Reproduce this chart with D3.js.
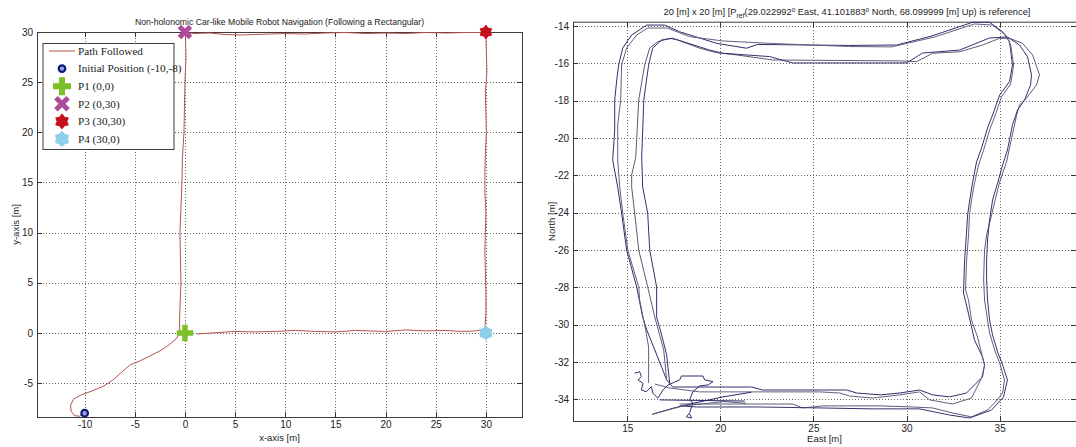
<!DOCTYPE html>
<html>
<head>
<meta charset="utf-8">
<script src="https://cdn.jsdelivr.net/npm/d3@7"></script>
<style>
body { margin: 0; background: #fff; }
svg { display: block; font-family: "Liberation Sans", Arial, sans-serif; }
.grid line { stroke: #666; stroke-dasharray: 1,2; shape-rendering: crispEdges; }
.axis line { stroke: #333; shape-rendering: crispEdges; }
.axis text { fill: #222; }
</style>
</head>
<body>
<script>
// ---------- left chart: robot path (x, y in m) ----------
var robotPath = [
	[-10,-8],[-10.5,-8.3],[-11.0,-8.25],[-11.35,-7.8],[-11.4,-7.2],[-11.1,-6.6],[-10.4,-6.2],[-9.3,-5.8],
	[-8.1,-5.3],[-7.2,-4.7],[-6.4,-4.0],[-5.5,-3.2],[-4.5,-2.8],[-3.5,-2.3],[-2.5,-1.8],[-1.6,-1.2],
	[-0.9,-0.6],[-0.5,0.0],
	[-0.55,1],[-0.5,2.5],[-0.4,5],[-0.45,7.5],[-0.5,10],[-0.4,12.5],[-0.3,15],[-0.25,17.5],[-0.1,20],
	[-0.05,22.5],[0.0,25],[0.1,27.5],[0.05,29.5],[0.2,29.9],
	[1,29.85],[2.5,29.9],[4,29.75],[5.5,29.7],[7,29.75],[8.5,29.8],[10,29.85],[12,29.8],[14,29.9],
	[16,29.95],[18,29.85],[20,29.9],[22,29.85],[24,29.95],[26,29.9],[28,29.95],[29.6,29.95],[30,29.7],
	[30.05,28],[30.1,26],[29.95,24],[30.0,22],[30.05,20],[29.95,18],[29.9,16],[29.9,14],[30.0,12],
	[29.95,10],[29.9,8],[29.95,6],[30.0,4],[30.0,2],[29.9,0.4],
	[29,0.2],[27.5,0.15],[26,0.25],[24,0.2],[22,0.3],[20,0.15],[18.5,0.2],[17,0.25],[15,0.1],[13,0.15],
	[11,0.25],[9,0.15],[7,0.1],[5,0.15],[3.5,0.05],[2,-0.05],[1.2,-0.1]
];
var initialPos = [-10, -8];
var waypointX = [0, 0, 30, 30];
var waypointY = [0, 30, 30, 0];
var legendLabels = ["Path Followed", "Initial Position (-10,-8)", "P1 (0,0)", "P2 (0,30)", "P3 (30,30)", "P4 (30,0)"];
var leftXTicks = [-10, -5, 0, 5, 10, 15, 20, 25, 30];
var leftYTicks = [-5, 0, 5, 10, 15, 20, 25, 30];

// ---------- right chart: recorded tracks (East, North in m) ----------
var trackA1 = [
	[17.12,-32.96],[16.48,-31.35],[16.05,-30.28],[15.83,-29.59],[15.51,-27.98],[14.97,-26.00],[14.70,-24.02],
	[14.49,-22.62],[14.22,-21.18],[14.33,-19.57],[14.33,-17.96],[14.44,-16.89],[14.54,-16.09],[14.76,-15.18],
	[15.24,-14.48],[16.05,-13.95],[17.01,-13.95],[17.82,-14.31],[19.80,-14.93],[21.41,-15.19],[22.00,-14.99],
	[26.94,-15.04],[29.47,-15.02],[31.34,-14.54],[33.55,-13.80],[34.46,-13.80],[35.16,-14.31],[35.53,-14.84],
	[35.69,-16.09],[35.53,-16.98],[35.00,-17.70],[34.62,-18.77],[34.35,-19.46],[34.03,-20.53],[33.76,-21.28],
	[33.55,-22.36],[33.38,-23.43],[33.28,-24.12],[33.22,-25.09],[33.12,-26.53],[33.06,-28.30],[33.28,-29.21],
	[33.65,-30.82],[34.08,-31.73],[34.19,-32.16],[34.08,-32.80],[33.22,-33.66],[32.31,-33.87],[31.40,-33.76],
	[30.70,-33.50],[29.63,-33.66],[28.61,-33.76],[27.32,-33.66],[26.78,-33.50],[25.49,-33.50],[22.27,-33.50],
	[21.68,-33.34],[17.44,-33.34],[17.12,-32.96]
];
var trackA2 = [
	[16.15,-33.12],[16.15,-31.19],[15.99,-30.28],[15.67,-28.68],[15.62,-27.98],[15.03,-26.00],[14.76,-24.02],
	[14.60,-22.62],[14.49,-21.18],[14.49,-19.30],[14.65,-17.96],[14.70,-16.09],[14.97,-15.18],[15.51,-14.48],
	[16.10,-14.11],[17.17,-14.11],[18.35,-14.57],[20.13,-14.80],[22.65,-14.93],[26.89,-15.10],[29.20,-15.12],
	[31.51,-14.59],[33.65,-13.89],[34.62,-13.95],[35.32,-14.48],[35.59,-15.02],[35.75,-16.09],[35.59,-17.11],
	[35.10,-17.80],[34.73,-18.87],[34.46,-19.57],[34.14,-20.64],[33.87,-21.45],[33.65,-22.41],[33.49,-23.32],
	[33.38,-24.12],[33.33,-25.19],[33.22,-26.64],[33.17,-28.14],[33.33,-28.68],[33.49,-29.75],[33.81,-30.66],
	[34.19,-32.16],[34.03,-32.85],[33.49,-33.93],[32.47,-34.25],[31.24,-34.03],[30.70,-33.60],[29.63,-33.76],
	[28.18,-33.93],[26.94,-33.82],[26.41,-33.66],[25.33,-33.60],[18.89,-33.60],[17.28,-33.39],[16.48,-33.18]
];
var trackB1 = [
	[17.12,-32.96],[16.96,-31.35],[16.74,-30.55],[16.48,-29.59],[16.10,-27.98],[15.62,-26.00],[15.40,-24.02],
	[15.24,-22.62],[15.24,-21.98],[15.46,-21.02],[15.62,-17.96],[15.94,-16.09],[16.21,-15.18],[16.64,-14.84],
	[17.28,-14.66],[17.71,-14.75],[18.89,-15.19],[19.80,-15.43],[20.88,-15.55],[22.81,-15.82],[29.63,-15.87],
	[30.54,-15.91],[31.40,-15.46],[32.85,-15.38],[34.08,-15.02],[35.00,-14.66],[35.53,-14.66],[36.23,-14.93],
	[36.77,-15.55],[37.14,-16.62],[36.98,-17.16],[36.44,-17.86],[36.07,-18.23],[35.91,-18.77],[35.80,-19.30],
	[35.53,-20.53],[35.37,-21.28],[35.00,-22.36],[34.73,-23.43],[34.57,-24.12],[34.30,-25.19],[34.19,-26.00],
	[34.14,-27.60],[34.19,-28.68],[34.35,-29.75],[34.46,-30.44],[34.73,-31.35],[35.00,-32.05],[35.26,-32.96],
	[35.16,-33.66],[34.73,-34.19],[34.35,-34.57],[33.49,-34.94],[32.47,-34.73],[31.40,-34.46],[30.32,-34.41],
	[28.61,-34.35],[25.49,-34.35],[24.96,-34.41],[24.42,-34.46],[23.88,-34.25],[18.73,-34.25],[17.82,-34.25]
];
var trackB2 = [
	[17.28,-33.12],[17.12,-31.62],[16.85,-30.55],[16.58,-29.59],[16.58,-27.98],[16.21,-26.00],[16.10,-24.02],
	[15.83,-22.62],[15.78,-21.02],[15.89,-17.96],[16.15,-16.09],[16.37,-15.18],[16.85,-14.75],[17.44,-14.66],
	[19.43,-15.29],[20.13,-15.46],[22.65,-15.64],[23.88,-15.98],[30.00,-15.98],[30.86,-15.45],[32.85,-15.29],
	[34.46,-14.64],[35.42,-14.59],[36.07,-15.02],[36.50,-15.66],[36.71,-16.62],[36.66,-17.16],[36.34,-17.96],
	[35.96,-18.50],[35.69,-19.30],[35.42,-20.64],[35.16,-21.45],[34.89,-22.41],[34.62,-23.32],[34.46,-24.39],
	[34.35,-25.46],[34.30,-26.53],[34.30,-27.60],[34.35,-28.68],[34.46,-29.75],[34.62,-30.55],[34.89,-31.46],
	[35.16,-32.16],[35.42,-32.96],[35.21,-33.87],[34.57,-34.57],[33.38,-35.00],[32.31,-34.84],[30.70,-34.51],
	[29.63,-34.51],[28.18,-34.51],[25.33,-34.46],[22.11,-34.41],[18.73,-34.41],[17.82,-34.35]
];
var startNoise1 = [
	[15.40,-32.60],[15.67,-32.52],[15.76,-32.78],[15.58,-32.96],[15.85,-33.14],[15.76,-33.50],[16.03,-33.59],
	[16.30,-33.32],[16.38,-33.67],[16.65,-33.94],[16.92,-33.50],[17.19,-33.23],[17.82,-32.96],[17.91,-32.75],
	[19.07,-32.75],[19.16,-32.96],[19.61,-33.05],[19.34,-33.23],[18.89,-33.28],[18.53,-33.59],[18.35,-34.03],
	[18.53,-34.19],[18.35,-34.73],[18.18,-34.94],[18.46,-35.00],[18.35,-34.78]
];
var startNoise2 = [[16.35,-34.80],[17.45,-34.48],[18.55,-34.21],[20.20,-33.86],[21.66,-33.62]];
var startNoise3 = [[16.35,-34.80],[18.00,-34.35],[20.20,-34.12],[21.39,-34.21]];
var startNoise4 = [[16.74,-34.03],[21.31,-34.09]];
var rightXTicks = [15, 20, 25, 30, 35];
var rightYTicks = [-34, -32, -30, -28, -26, -24, -22, -20, -18, -16, -14];

var svg = d3.select("body").append("svg")
	.attr("width", 1076)
	.attr("height", 447);

function fmt(d) { return String(d); }

function frame(g, x, y, xt, yt) {
	var xr = x.range(), yr = y.range();
	var grid = g.append("g").attr("class", "grid");
	grid.selectAll(".gx").data(xt).enter().append("line")
		.attr("x1", function(d) { return Math.round(x(d)) + 0.5; })
		.attr("x2", function(d) { return Math.round(x(d)) + 0.5; })
		.attr("y1", yr[0]).attr("y2", yr[1]);
	grid.selectAll(".gy").data(yt).enter().append("line")
		.attr("y1", function(d) { return Math.round(y(d)) + 0.5; })
		.attr("y2", function(d) { return Math.round(y(d)) + 0.5; })
		.attr("x1", xr[0]).attr("x2", xr[1]);

	var axes = [
		g.append("g").attr("transform", "translate(0," + yr[0] + ")")
			.call(d3.axisBottom(x).tickValues(xt).tickSizeInner(-5).tickSizeOuter(0).tickPadding(4).tickFormat(fmt)),
		g.append("g").attr("transform", "translate(0," + yr[1] + ")")
			.call(d3.axisTop(x).tickValues(xt).tickSizeInner(-5).tickSizeOuter(0).tickFormat("")),
		g.append("g").attr("transform", "translate(" + xr[0] + ",0)")
			.call(d3.axisLeft(y).tickValues(yt).tickSizeInner(-5).tickSizeOuter(0).tickPadding(4).tickFormat(fmt)),
		g.append("g").attr("transform", "translate(" + xr[1] + ",0)")
			.call(d3.axisRight(y).tickValues(yt).tickSizeInner(-5).tickSizeOuter(0).tickFormat(""))
	];
	axes.forEach(function(a) {
		a.attr("class", "axis").attr("font-size", 10).attr("font-family", "Liberation Sans, Arial, sans-serif");
		a.select(".domain").remove();
	});

	g.append("rect")
		.attr("x", xr[0] + 0.5).attr("y", yr[1] + 0.5)
		.attr("width", xr[1] - xr[0]).attr("height", yr[0] - yr[1])
		.attr("fill", "none").attr("stroke", "#3c3c3c");
}

function starPath(n, R, r) {
	var pts = [];
	for (var i = 0; i < 2 * n; i++) {
		var a = -Math.PI / 2 + i * Math.PI / n;
		var rad = i % 2 ? r : R;
		pts.push([rad * Math.cos(a), rad * Math.sin(a)]);
	}
	return "M" + pts.join("L") + "Z";
}

var markerColors = ["#7cbf28", "#ad4c9c", "#c5121c", "#8fcfe8"];

function drawMarker(sel, i, cx, cy, big) {
	var s = big ? 1.1 : 1;
	var m = sel.append("g").attr("transform", "translate(" + cx + "," + cy + ")");
	if (i === 0) {
		m.append("path").attr("d", d3.symbol(d3.symbolCross, 150 * s * s)()).attr("fill", markerColors[0]);
	} else if (i === 1) {
		var k = 5.5 * s;
		m.append("path").attr("d", "M" + (-k) + "," + (-k) + "L" + k + "," + k + "M" + (-k) + "," + k + "L" + k + "," + (-k))
			.attr("stroke", markerColors[1]).attr("stroke-width", 5).attr("fill", "none");
	} else if (i === 2) {
		m.append("path").attr("d", starPath(6, 6.2 * s, 4.2 * s)).attr("fill", markerColors[2])
			.attr("stroke", markerColors[2]).attr("stroke-width", 1.5).attr("stroke-linejoin", "round");
	} else {
		m.append("path").attr("d", starPath(6, 6.2 * s, 4.6 * s)).attr("fill", markerColors[3])
			.attr("stroke", markerColors[3]).attr("stroke-width", 2).attr("stroke-linejoin", "round");
	}
}

// ================= left chart =================
var xL = d3.scaleLinear().domain([-14.75, 33.6]).range([37, 522]);
var yL = d3.scaleLinear().domain([-8.38, 30]).range([417, 32]);
var gL = svg.append("g");
frame(gL, xL, yL, leftXTicks, leftYTicks);

gL.append("path")
	.datum(robotPath)
	.attr("fill", "none")
	.attr("stroke", "#b8524b")
	.attr("stroke-width", 1)
	.attr("d", d3.line().x(function(d) { return xL(d[0]); }).y(function(d) { return yL(d[1]); }));

gL.append("circle")
	.attr("cx", xL(initialPos[0])).attr("cy", yL(initialPos[1])).attr("r", 3.3)
	.attr("fill", "#9aa0d8").attr("stroke", "#0d1a78").attr("stroke-width", 2.2);

waypointX.forEach(function(wx, i) {
	drawMarker(gL, i, xL(wx), yL(waypointY[i]), false);
});

gL.append("text")
	.attr("x", (xL.range()[0] + xL.range()[1]) / 2).attr("y", 25)
	.attr("text-anchor", "middle").attr("font-size", 8.7).attr("fill", "#222")
	.text("Non-holonomic Car-like Mobile Robot Navigation (Following a Rectangular)");
gL.append("text")
	.attr("x", (xL.range()[0] + xL.range()[1]) / 2).attr("y", 441)
	.attr("text-anchor", "middle").attr("font-size", 9.5).attr("fill", "#222")
	.text("x-axis [m]");
gL.append("text")
	.attr("transform", "translate(19," + (yL.range()[0] + yL.range()[1]) / 2 + ") rotate(-90)")
	.attr("text-anchor", "middle").attr("font-size", 9.5).attr("fill", "#222")
	.text("y-axis [m]");

// legend
var leg = gL.append("g").attr("transform", "translate(43,43.5)");
leg.append("rect").attr("width", 131).attr("height", 106)
	.attr("fill", "#fff").attr("stroke", "#3c3c3c");
legendLabels.forEach(function(lab, i) {
	var ly = 7.5 + i * 17.6;
	if (i === 0) {
		leg.append("line").attr("x1", 6).attr("x2", 32).attr("y1", ly).attr("y2", ly)
			.attr("stroke", "#b8524b").attr("stroke-width", 1);
	} else if (i === 1) {
		leg.append("circle").attr("cx", 19).attr("cy", ly).attr("r", 3.3)
			.attr("fill", "#9aa0d8").attr("stroke", "#0d1a78").attr("stroke-width", 2.2);
	} else {
		drawMarker(leg, i - 2, 19, ly, true);
	}
	leg.append("text").attr("x", 35).attr("y", ly + 3.8)
		.attr("font-family", "Liberation Serif, Times New Roman, serif")
		.attr("font-size", 11.2).attr("fill", "#222")
		.text(lab);
});

// ================= right chart =================
var xR = d3.scaleLinear().domain([12.09, 39.1]).range([573, 1076]);
var yR = d3.scaleLinear().domain([-35.16, -13.77]).range([421, 21.7]);
var gR = svg.append("g");
frame(gR, xR, yR, rightXTicks, rightYTicks);

var lineR = d3.line().x(function(d) { return xR(d[0]); }).y(function(d) { return yR(d[1]); });
var tracks = [
	{pts: trackA1, c: "#2f2f6c"},
	{pts: trackA2, c: "#62627e"},
	{pts: trackB1, c: "#5c5c7a"},
	{pts: trackB2, c: "#34346e"},
	{pts: startNoise1, c: "#2f2f6c"},
	{pts: startNoise2, c: "#2a2a66"},
	{pts: startNoise3, c: "#5c5c7a"},
	{pts: startNoise4, c: "#2a2a66"}
];
gR.selectAll(".track").data(tracks).enter().append("path")
	.attr("class", "track")
	.attr("fill", "none")
	.attr("stroke", function(d) { return d.c; })
	.attr("stroke-width", 1)
	.attr("d", function(d) { return lineR(d.pts); });

var tR = gR.append("text")
	.attr("x", 847).attr("y", 15)
	.attr("text-anchor", "middle").attr("font-size", 9.3).attr("fill", "#222");
tR.append("tspan").text("20 [m] x 20 [m]  [P");
tR.append("tspan").attr("font-size", 7).attr("dy", 2.5).text("ref");
tR.append("tspan").attr("dy", -2.5).text("(29.022992");
tR.append("tspan").attr("font-size", 6.5).attr("dy", -3.5).text("o");
tR.append("tspan").attr("dy", 3.5).text(" East, 41.101883");
tR.append("tspan").attr("font-size", 6.5).attr("dy", -3.5).text("o");
tR.append("tspan").attr("dy", 3.5).text(" North, 68.099999 [m] Up) is reference]");

gR.append("text")
	.attr("x", (xR.range()[0] + xR.range()[1]) / 2).attr("y", 442)
	.attr("text-anchor", "middle").attr("font-size", 9.5).attr("fill", "#222")
	.text("East [m]");
gR.append("text")
	.attr("transform", "translate(555," + (yR.range()[0] + yR.range()[1]) / 2 + ") rotate(-90)")
	.attr("text-anchor", "middle").attr("font-size", 9.5).attr("fill", "#222")
	.text("North [m]");
</script>
</body>
</html>
